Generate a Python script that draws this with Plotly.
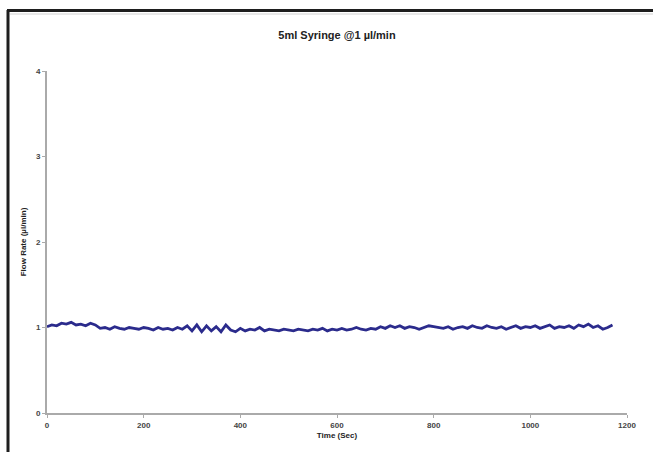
import plotly.graph_objects as go

time_sec = list(range(0, 1180, 10))
flow_rate = [
    1.01, 1.03, 1.02, 1.05, 1.04, 1.06, 1.03, 1.04, 1.02, 1.05,
    1.03, 0.99, 1.00, 0.98, 1.01, 0.99, 0.98, 1.00, 0.99, 0.98,
    1.00, 0.99, 0.97, 1.00, 0.98, 0.99, 0.97, 1.00, 0.98, 1.02,
    0.96, 1.03, 0.95, 1.02, 0.96, 1.01, 0.95, 1.03, 0.97, 0.95,
    0.99, 0.96, 0.98, 0.97, 1.00, 0.96, 0.98, 0.97, 0.96, 0.98,
    0.97, 0.96, 0.98, 0.97, 0.96, 0.98, 0.97, 0.99, 0.96, 0.98,
    0.97, 0.99, 0.97, 0.98, 1.00, 0.98, 0.97, 0.99, 0.98, 1.01,
    0.99, 1.02, 1.00, 1.02, 0.99, 1.01, 1.00, 0.98, 1.00, 1.02,
    1.01, 1.00, 0.99, 1.01, 0.98, 1.00, 1.01, 0.99, 1.02, 1.00,
    0.99, 1.02, 1.00, 0.99, 1.01, 0.98, 1.00, 1.02, 0.99, 1.01,
    1.00, 1.02, 0.99, 1.01, 1.03, 0.99, 1.01, 1.00, 1.02, 0.99,
    1.03, 1.01, 1.04, 1.00, 1.02, 0.98, 1.00, 1.03,
]
x_ticks = [0, 200, 400, 600, 800, 1000, 1200]
y_ticks = [0, 1, 2, 3, 4]

fig = go.Figure()
fig.add_trace(go.Scatter(
    x=time_sec, y=flow_rate, mode="lines",
    line=dict(color="#2b2b8c", width=2.8),
    showlegend=False, hoverinfo="skip",
))

W, H = 653, 452
L, T = 47, 71
R = W - 627
B = H - 413
pw, ph = W - L - R, H - T - B

def px(xp):  # pixel -> paper
    return (xp - L) / pw

def py(yp):
    return (H - B - yp) / ph

fig.update_layout(
    width=W, height=H,
    margin=dict(l=L, r=R, t=T, b=B, autoexpand=False),
    paper_bgcolor="white", plot_bgcolor="white",
    font=dict(family="Liberation Sans, Arial, sans-serif", color="#333"),
    title=dict(text="<b>5ml Syringe @1 µl/min</b>", x=px(337), xanchor="center",
               xref="paper", y=1 - 35 / H, yanchor="middle",
               font=dict(size=11, color="#222")),
    xaxis=dict(range=[0, 1200], tickvals=x_ticks,
               ticktext=[f"<b>{v}</b>" for v in x_ticks],
               showgrid=False, zeroline=False, automargin=False,
               showline=True, linecolor="#aaa", linewidth=2,
               ticks="outside", ticklen=3, tickcolor="#aaa",
               tickfont=dict(size=8, color="#444"),
               title=dict(text="<b>Time (Sec)</b>", font=dict(size=8, color="#222"), standoff=4)),
    yaxis=dict(range=[0, 4], tickvals=y_ticks,
               ticktext=[f"<b>{v}</b>" for v in y_ticks],
               showgrid=False, zeroline=False, automargin=False,
               showline=True, linecolor="#aaa", linewidth=2,
               ticks="outside", ticklen=3, tickcolor="#aaa",
               tickfont=dict(size=8, color="#444"),
               title=dict(text="<b>Flow Rate (µl/min)</b>", font=dict(size=8, color="#222"), standoff=8)),
    shapes=[
        dict(type="line", xref="paper", yref="paper", x0=px(8), x1=px(8),
             y0=py(10), y1=py(H + 5), line=dict(color="#1e1e1e", width=3)),
        dict(type="line", xref="paper", yref="paper", x0=px(7), x1=px(W + 5),
             y0=py(10.5), y1=py(10.5), line=dict(color="#1e1e1e", width=3)),
        dict(type="line", xref="paper", yref="paper", x0=px(10), x1=px(W + 5),
             y0=py(14), y1=py(14), line=dict(color="#e8e8e8", width=2)),
    ],
)

fig.write_html(
    "out.html",
    config={"displayModeBar": False},
    post_script="document.body.style.margin='0';document.body.style.overflow='hidden';",
)
